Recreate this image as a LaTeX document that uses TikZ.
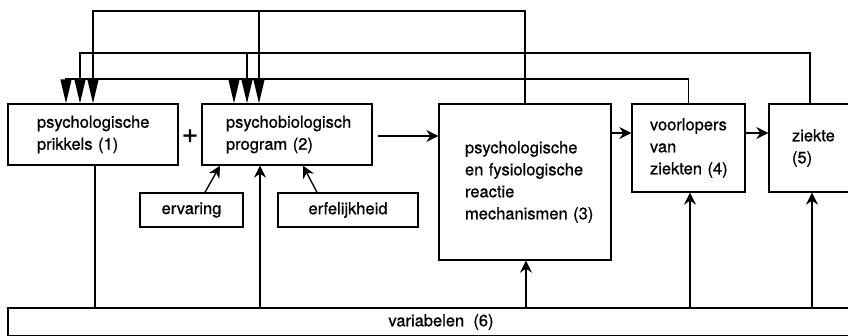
\documentclass[tikz,border=0pt]{standalone}
\usepackage{fontspec}
\setmainfont{TeX Gyre Heros}[FakeBold=0.8]
\usetikzlibrary{arrows.meta,positioning}

\begin{document}
\begin{tikzpicture}[x=1pt,y=-1pt,on grid,line width=1.35pt,
  box/.style={draw,rectangle,inner sep=0pt,align=left,font=\fontsize{16.5}{22}\selectfont},
  small/.style={draw,rectangle,inner sep=0pt,font=\fontsize{16.5}{22}\selectfont},
  arr/.style={-{Stealth[length=12pt,width=12pt,inset=4pt]}},
  fb/.style={-{Triangle[length=24pt,width=11pt]}}]
  \useasboundingbox (0,0) rectangle (848,335);
  \clip (0,0) rectangle (848,335);
  \node[box,minimum width=170pt,minimum height=61pt,text width=112pt] (prikkels) at (93,134.5) {psychologische\\prikkels (1)};
  \node[box,minimum width=170pt,minimum height=61pt,text width=122pt] (program) [right=194pt of prikkels] {psychobiologisch\\program (2)};
  \node[font=\fontsize{28}{28}\selectfont,inner sep=0pt] (plus) at (190,136) {+};
  \node[box,minimum width=172pt,minimum height=156pt,text width=120pt] (reactie) at (525,182) {psychologische\\en fysiologische\\reactie\\mechanismen~(3)};
  \node[box,minimum width=113pt,minimum height=88pt,text width=77pt] (voorlopers) at (688.5,148) {voorlopers\\van\\ziekten~(4)};
  \node[box,minimum width=82pt,minimum height=88pt,text width=36pt] (ziekte) [right=121.5pt of voorlopers] {ziekte\\(5)};
  \node[small,minimum width=103pt,minimum height=34pt] (ervaring) at (191.5,210) {ervaring};
  \node[small,minimum width=140pt,minimum height=34pt] (erfelijkheid) [right=156.5pt of ervaring] {erfelijkheid};
  \node[small,minimum width=866pt,minimum height=28pt] (var) at (441,322) {variabelen\ \ (6)};

  \coordinate (p3) at (prikkels.north);
  \coordinate (p5) at ([xshift=-13pt]prikkels.north);
  \coordinate (p4) at ([xshift=-27pt]prikkels.north);
  \coordinate (q3) at ([xshift=-28pt]program.north);
  \coordinate (q5) at ([xshift=-40pt]program.north);
  \coordinate (q4) at ([xshift=-53pt]program.north);

  \draw[fb] (reactie.north) |- (p3 |- 0,11) -- (p3);
  \draw[fb] (q3 |- 0,11) -- (q3);
  \draw[fb] (ziekte.north) |- (p5 |- 0,53) -- (p5);
  \draw[fb] (q5 |- 0,53) -- (q5);
  \draw[fb] (voorlopers.north) |- (p4 |- 0,79) -- (p4);
  \draw[fb] (q4 |- 0,79) -- (q4);

  \draw[arr,shorten <=5pt] (program.east |- 0,136) -- (reactie.west |- 0,136);
  \draw[arr] ([yshift=15pt]voorlopers.west -| reactie.east) -- ([yshift=15pt]voorlopers.west);
  \draw[arr] ([yshift=15pt]voorlopers.east) -- ([yshift=15pt]ziekte.west);
  \draw[arr] ([xshift=13.5pt]ervaring.north) -- ([xshift=-67pt]program.south);
  \draw[arr] ([xshift=-31pt]erfelijkheid.north) -- ([xshift=16pt]program.south);

  \draw ([xshift=2pt]prikkels.south) -- ([xshift=2pt]prikkels.south |- var.north);
  \draw[arr] ([xshift=-27pt]program.south |- var.north) -- ([xshift=-27pt]program.south);
  \draw[arr] ([xshift=1pt]reactie.south |- var.north) -- ([xshift=1pt]reactie.south);
  \draw[arr] ([xshift=1.5pt]voorlopers.south |- var.north) -- ([xshift=1.5pt]voorlopers.south);
  \draw[arr] ([xshift=2pt]ziekte.south |- var.north) -- ([xshift=2pt]ziekte.south);
\end{tikzpicture}
\end{document}
